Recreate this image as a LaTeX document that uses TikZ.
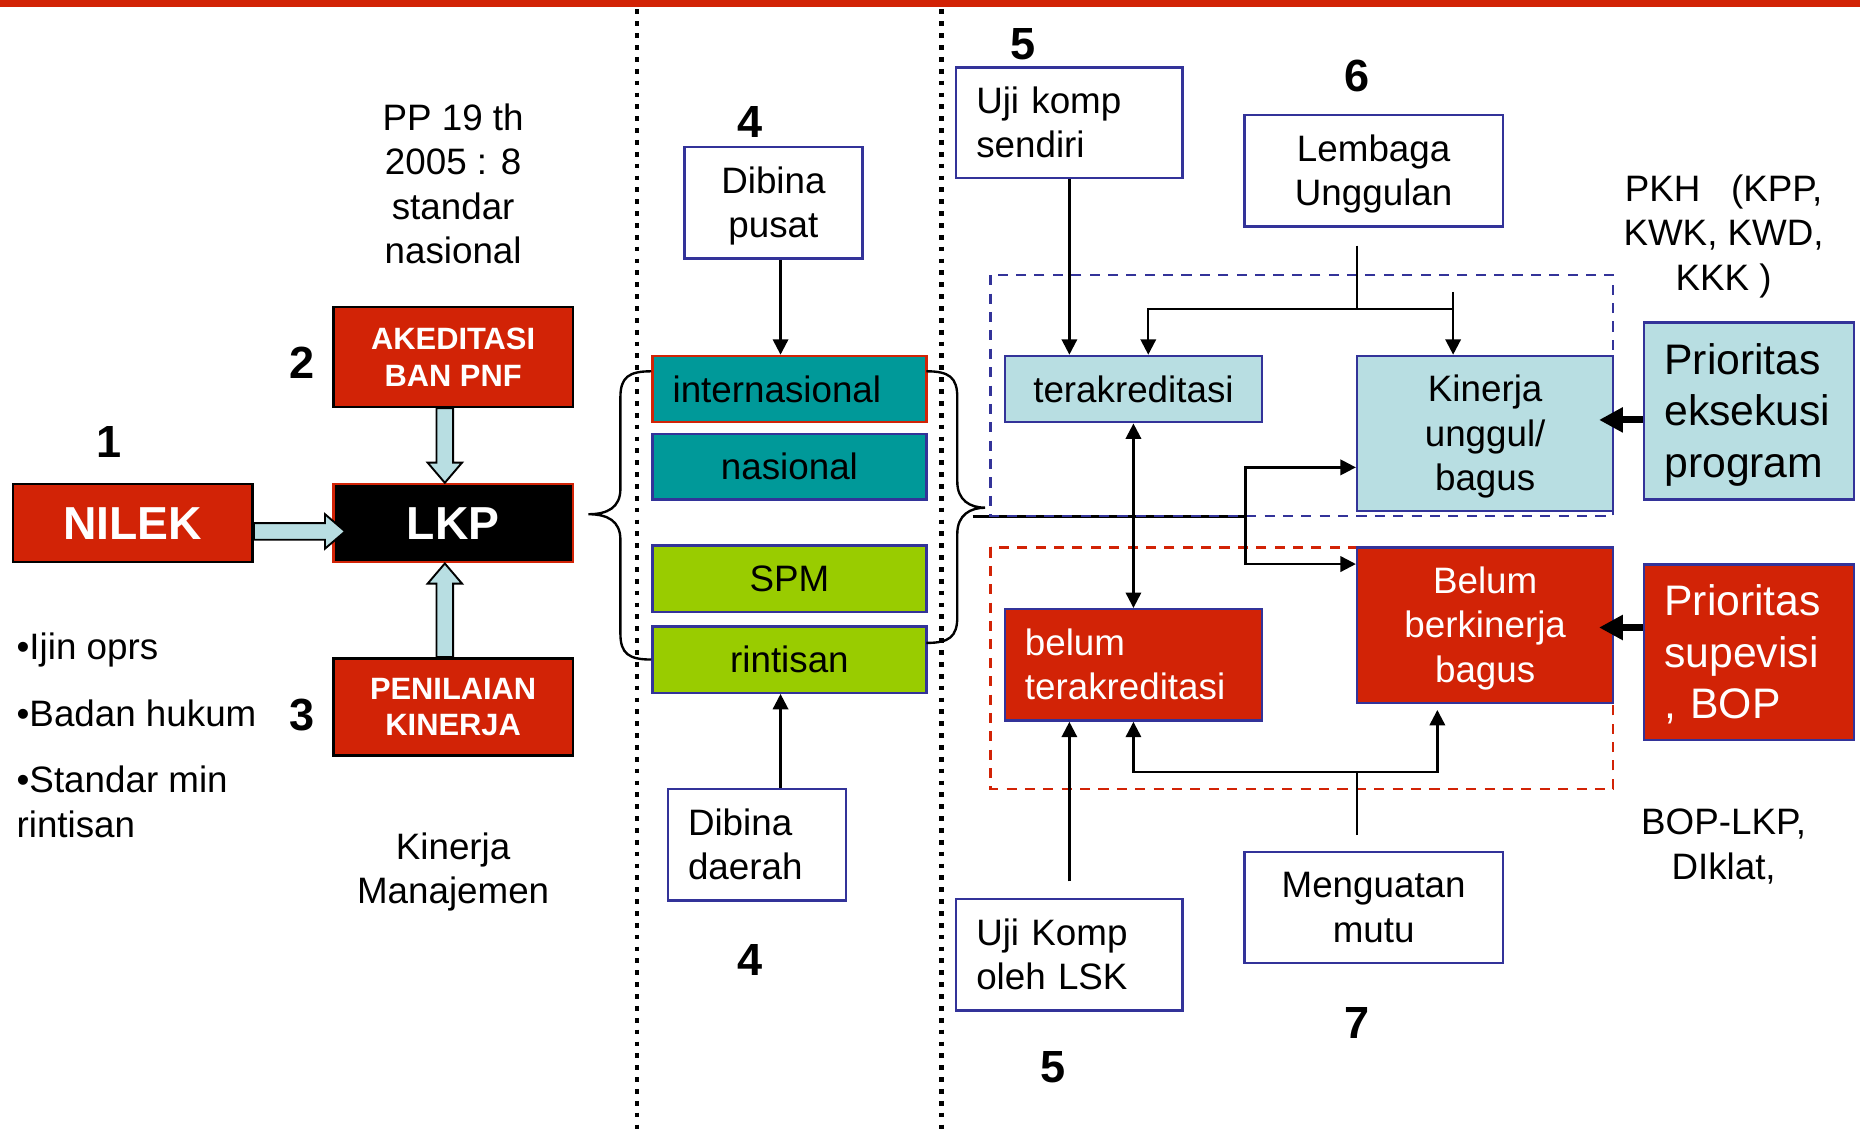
\documentclass[tikz,border=0pt]{standalone}
\usepackage{fontspec}
\setmainfont{Liberation Sans}
\usepackage{xcolor}
\usetikzlibrary{calc}
\usetikzlibrary{arrows.meta}

\definecolor{pptred}{HTML}{D22306}
\definecolor{boxblue}{HTML}{333399}
\definecolor{tealc}{HTML}{009999}
\definecolor{limec}{HTML}{99CC00}
\definecolor{ltblue}{HTML}{B8DEE2}

% line box like in slides
\newcommand\slstrut{\rule[-0.212em]{0pt}{1.117em}}

% fat outlined arrow between two points
\newcommand\fatarrow[2]{%
  \coordinate (fa-s) at (#1);
  \coordinate (fa-t) at (#2);
  \coordinate (fa-h) at ($(fa-t)!17pt!(fa-s)$);
  \filldraw[fill=ltblue, draw=black, line width=1.6pt, line join=miter]
    ($(fa-s)!7pt!90:(fa-t)$) -- ($(fa-h)!7pt!90:(fa-t)$)
    -- ($(fa-h)!14.5pt!90:(fa-t)$) -- (fa-t)
    -- ($(fa-h)!14.5pt!-90:(fa-t)$) -- ($(fa-h)!7pt!-90:(fa-t)$)
    -- ($(fa-s)!7pt!-90:(fa-t)$) -- cycle;
}

\tikzset{
  txt/.style={font=\fontsize{31}{37.5}\selectfont, align=center, inner sep=0pt},
  bigtxt/.style={font=\fontsize{36}{43.5}\selectfont},
  num/.style={font=\fontsize{38}{40}\selectfont\bfseries, inner sep=0pt},
  bbox/.style={txt, draw=boxblue, fill=white, line width=2pt},
  lbox/.style={bbox, align=left, inner xsep=17pt},
  redbox/.style={draw=black, fill=pptred, text=white, line width=2pt, align=center,
    inner sep=0pt, font=\fontsize{26}{31}\selectfont\bfseries},
  divider/.style={line width=4pt, dash pattern=on 4pt off 6pt},
  thickarr/.style={line width=6pt, -{Triangle[length=20pt,width=20pt]}},
  >={Triangle[length=13pt,width=13pt]},
}

\begin{document}
\begin{tikzpicture}[x=1pt, y=-1pt, line width=2pt]
  \useasboundingbox (0,0) rectangle (1568,957);
  \fill[pptred] (0,0) rectangle (1568,6);

  % dividers
  \draw[divider] (537,8) -- (537,957);
  \draw[divider] (793.5,8) -- (793.5,957);

  % left part
  \node[redbox, minimum width=202pt, minimum height=66pt,
    font=\fontsize{39}{40}\selectfont\bfseries] (nilek) at (112,441) {NILEK};
  \node[redbox, fill=black, draw=pptred, minimum width=202pt, minimum height=66pt,
    font=\fontsize{39}{40}\selectfont\bfseries] (lkp) at (382,441) {LKP};
  \node[redbox, minimum width=202pt, minimum height=84pt] (akr) at (382,301) {AKEDITASI\\BAN PNF};
  \node[redbox, minimum width=202pt, minimum height=82pt] (pnl) at (382,596) {PENILAIAN\\KINERJA};

  \node[num] (n1) at (92,373) {1};
  \node[num] (n2) at (255,306) {2};
  \node[num] (n3) at (255,603) {3};

  \node[txt] (pp) at (382,155) {PP 19 th\\2005 : 8\\standar\\nasional};
  \node[txt, align=left, anchor=west] (syarat) at (13,620)
    {•Ijin oprs\\[18.5pt]•Badan hukum\\[18.5pt]•Standar min\\rintisan};
  \node[txt] (kman) at (382,735) {Kinerja\\Manajemen};

  \fatarrow{$(nilek.east)+(0,7)$}{$(lkp.west)+(11,7)$}
  \fatarrow{$(akr.south)+(-7,0)$}{$(lkp.north)+(-7,0)$}
  \fatarrow{$(pnl.north)+(-7,0)$}{$(lkp.south)+(-7,0)$}

  % middle part
  \node[num] (n4a) at (632,103) {4};
  \node[num] (n4b) at (632,809) {4};
  \node[bbox, minimum width=150pt, minimum height=94pt] (pusat) at (652,171) {\slstrut Dibina\\pusat\slstrut};
  \node[lbox, fill=tealc, draw=pptred, text width=197pt, minimum height=56pt] (intl) at (665.5,328) {internasional};
  \node[bbox, fill=tealc, minimum width=231pt, minimum height=55pt] (nas) at (665.5,393.5) {nasional};
  \node[bbox, fill=limec, minimum width=231pt, minimum height=56pt] (spm) at (665.5,488) {SPM};
  \node[bbox, fill=limec, minimum width=231pt, minimum height=56pt] (rint) at (665.5,556) {rintisan};
  \node[lbox, text width=116pt, minimum height=94pt] (daerah) at (638,712) {\slstrut Dibina\\daerah\slstrut};

  \draw[->] ([xshift=6pt]pusat.south) -- ([xshift=-7.5pt]intl.north);
  \draw[->] ([xshift=20pt]daerah.north) -- ([xshift=-7.5pt]rint.south);

  % braces
  \draw (549,313) .. controls (530,313) and (523,318) .. (523,335) -- (523,412)
    .. controls (523,428) and (512,433.5) .. (496,433.5)
    .. controls (512,433.5) and (523,439) .. (523,455) -- (523,534)
    .. controls (523,551) and (530,556) .. (549,556);
  \draw (781,313) .. controls (800,313) and (807,318) .. (807,335) -- (807,406)
    .. controls (807,422) and (818,428) .. (830.5,428)
    .. controls (818,428) and (807,434) .. (807,450) -- (807,520)
    .. controls (807,537) and (800,542) .. (781,542);
  \coordinate (bj) at (1050,435.5);
  \draw (820,435.5) -- (bj);

  % right part
  \draw[boxblue, dash pattern=on 8.5pt off 7pt] (835,232) rectangle (1360,435);
  \draw[pptred, dash pattern=on 8.5pt off 7pt] (835,461.5) rectangle (1360,665);

  \node[num] (n5a) at (862,37) {5};
  \node[num] (n6) at (1144,64) {6};
  \node[num] (n7) at (1144,862) {7};
  \node[num] (n5b) at (888,900) {5};

  \node[lbox, text width=157pt, minimum height=93pt] (ujis) at (901.5,103.5) {\slstrut Uji komp\\sendiri\slstrut};
  \node[bbox, minimum width=218pt, minimum height=94pt] (lemb) at (1158,144) {\slstrut Lembaga\\Unggulan\slstrut};
  \node[txt] (pkh) at (1453,199) {PKH\ \ \ (KPP,\\KWK, KWD,\\KKK )};
  \node[bbox, fill=ltblue, minimum width=217pt, minimum height=56pt] (terak) at (955.5,328) {terakreditasi};
  \node[bbox, fill=ltblue, minimum width=216pt, minimum height=131pt] (kin) at (1252,365.5) {\slstrut Kinerja\\unggul/\\bagus\slstrut};
  \node[lbox, bigtxt, fill=ltblue, text width=143pt, minimum height=149pt] (prio1) at (1474.5,346.5) {\slstrut Prioritas\\eksekusi\\program\slstrut};
  \node[bbox, fill=pptred, text=white, minimum width=216pt, minimum height=131pt] (belum) at (1252,527) {\slstrut Belum\\berkinerja\\bagus\slstrut};
  \node[lbox, fill=pptred, text=white, text width=183pt, minimum height=94pt] (bterak) at (955.5,560.5) {\slstrut belum\\terakreditasi\slstrut};
  \node[lbox, bigtxt, fill=pptred, text=white, text width=143pt, minimum height=148pt] (prio2) at (1474.5,550) {\slstrut Prioritas\\supevisi\\, BOP\slstrut};
  \node[lbox, text width=157pt, minimum height=94pt] (ujil) at (901.5,805) {\slstrut Uji Komp\\oleh LSK\slstrut};
  \node[bbox, minimum width=218pt, minimum height=94pt] (meng) at (1158,765) {\slstrut Menguatan\\mutu\slstrut};
  \node[txt] (bop) at (1453,713.5) {BOP-LKP,\\DIklat,};

  \draw[->] (ujis.south) -- (ujis.south |- terak.north);
  \coordinate (kt) at ($(kin.north)+(-27,0)$);
  \draw ($(lemb.south)+(-14,15)$) -- ++(0,53.5) coordinate (lj);
  \draw[->] (lj) -| ($(terak.north)+(12.5,0)$);
  \draw (lj) -- (lj -| kt);
  \draw[->] ($(kt)+(0,-53)$) -- (kt);

  \draw[<->] (terak.south) -- (bterak.north);
  \draw[->] (bj) |- ($(kin.west)+(0,28.5)$);
  \draw[->] (bj) |- ($(belum.west)+(0,-51.5)$);

  \draw[->] ($(ujil.north)+(0,-14)$) -- (ujil.north |- bterak.south);
  \draw ($(meng.north)+(-14,-13)$) -- ++(0,-53) coordinate (mj);
  \draw[->] (mj) -| (bterak.south);
  \draw[->] (mj) -| ($(belum.south)+(-40.3,5)$);

  \draw[thickarr] ($(prio1.west)+(0,7.5)$) -- ($(kin.east)+(-13,-11.5)$);
  \draw[thickarr] ($(prio2.west)+(0,-21)$) -- ($(belum.east)+(-13,2)$);
\end{tikzpicture}
\end{document}
